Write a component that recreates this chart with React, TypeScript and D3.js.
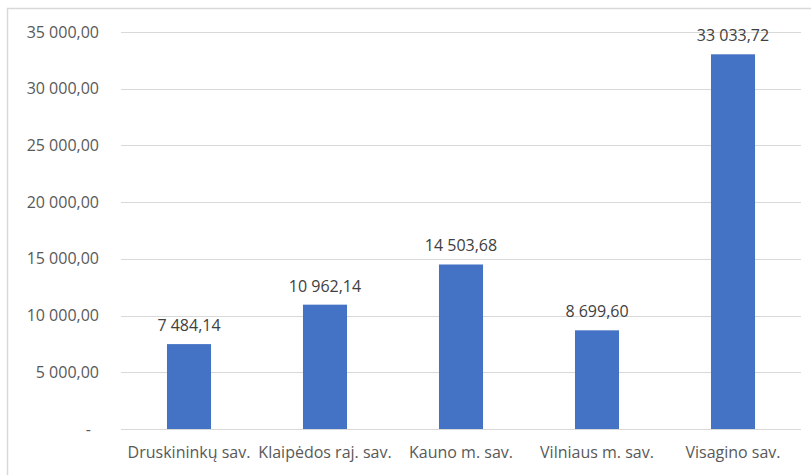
import React from "react";
import * as d3 from "d3";

const categories = ["Druskininkų sav.", "Klaipėdos raj. sav.", "Kauno m. sav.", "Vilniaus m. sav.", "Visagino sav."];
const values = [7484.14, 10962.14, 14503.68, 8699.6, 33033.72];
const yTicks = [0, 5000, 10000, 15000, 20000, 25000, 30000, 35000];

const locale = d3.formatLocale({ decimal: ",", thousands: " ", grouping: [3], currency: ["", ""] });
const fmt = locale.format(",.2f");
const tickFmt = (v: number) => (v === 0 ? "-" : fmt(v));

export default function App() {
  const W = 811, H = 475;
  const left = 121, right = 801, top = 32, bottom = 429;
  const x = d3.scaleBand<string>().domain(categories).range([left, right]).paddingInner(0.676).paddingOuter(0.338);
  const y = d3.scaleLinear().domain([0, 35000]).range([bottom, top]);
  const font = "'Open Sans', sans-serif";
  const fs = 16;
  return (
    <svg width={W} height={H} style={{ position: "absolute", left: 0, top: 0 }}>
      <rect x={0} y={0} width={W} height={H} fill="#fff" />
      <rect x={7.5} y={8.5} width={W} height={H} fill="none" stroke="#d9d9d9" strokeWidth={1.5} />
      {yTicks.map((t) => (
        <g key={t}>
          <line x1={left} x2={right} y1={Math.round(y(t)) + 0.5} y2={Math.round(y(t)) + 0.5} stroke="#d9d9d9" strokeWidth={1} />
          <text
            x={t === 0 ? 91 : 99}
            y={y(t)}
            dy="0.35em"
            textAnchor="end"
            fontFamily={font}
            fontSize={fs}
            fill="#595959"
          >
            {tickFmt(t)}
          </text>
        </g>
      ))}
      {categories.map((c, i) => (
        <g key={c}>
          <rect x={x(c)} y={y(values[i])} width={x.bandwidth()} height={y(0) - y(values[i])} fill="#4472C4" />
          <text
            x={(x(c) as number) + x.bandwidth() / 2}
            y={y(values[i]) - 13}
            textAnchor="middle"
            fontFamily={font}
            fontSize={fs}
            fill="#404040"
          >
            {fmt(values[i])}
          </text>
          <text
            x={(x(c) as number) + x.bandwidth() / 2}
            y={bottom + 29}
            textAnchor="middle"
            fontFamily={font}
            fontSize={fs}
            fill="#595959"
          >
            {c}
          </text>
        </g>
      ))}
    </svg>
  );
}
